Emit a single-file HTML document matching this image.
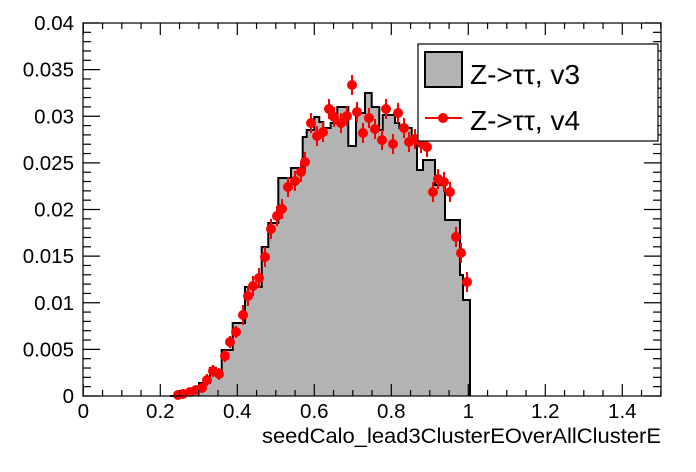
<!DOCTYPE html>
<html><head><meta charset="utf-8"><style>
html,body{margin:0;padding:0;background:#fff;}
svg{display:block;font-family:"Liberation Sans",sans-serif;}
</style></head><body>
<svg id="s" width="696" height="472" viewBox="0 0 696 472" xmlns="http://www.w3.org/2000/svg">
<rect width="696" height="472" fill="#fff"/>
<polygon id="hist" fill="#b3b3b3" stroke="none"/>
<polyline id="histl" fill="none" stroke="#000" stroke-width="2"/>
<g id="pts"></g>
<g id="axes" stroke="#000" stroke-width="1.2" fill="none"></g>
<g id="labels" font-size="20.5" fill="#000"></g>
<text x="661" y="443" font-size="21.5" text-anchor="end" textLength="399" lengthAdjust="spacingAndGlyphs">seedCalo_lead3ClusterEOverAllClusterE</text>
<rect x="418" y="44" width="240" height="97" fill="#fff" stroke="#000" stroke-width="1.2"/>
<rect x="425" y="52" width="37" height="35" fill="#b3b3b3" stroke="#000" stroke-width="2"/>
<text x="470" y="84" font-size="28">Z-&gt;ττ, v3</text>
<line x1="425" y1="118" x2="462" y2="118" stroke="#f00" stroke-width="2"/>
<circle cx="443" cy="118" r="5" fill="#f00"/>
<text x="470" y="130" font-size="28">Z-&gt;ττ, v4</text>
</svg>
<script>
var ns="http://www.w3.org/2000/svg";
function el(t,a,p){var e=document.createElementNS(ns,t);for(var k in a)e.setAttribute(k,a[k]);p.appendChild(e);return e;}
var st=[[170,396],[176,395],[185,394],[190,392],[199,383],[210,368],[216,371],[221.7,350],[232.7,323],[245,287],[261.7,247],[268.3,223],[278.3,178],[291,168],[302.7,137],[306.7,130],[314.3,117],[319.3,122],[323.3,128],[330.7,123],[337.3,107],[348.3,146],[356,113],[365,93],[371.7,107],[379.3,130],[382.7,115],[395,123],[399.3,128],[411.7,140],[417,170],[423,170],[423,160],[435,185],[445,220],[460,275],[463,300],[470,396]];
var d=[];
for(var i=0;i<st.length;i++){var x=st[i][0],y=st[i][1];var x2=i+1<st.length?st[i+1][0]:x;
d.push(x+","+y);d.push(x2+","+y);}
var poly=d.slice();poly.push("470,396");poly.unshift("170,396");
document.getElementById("hist").setAttribute("points",poly.join(" "));
document.getElementById("histl").setAttribute("points",d.join(" ")+" 470,396");
var P=[[178,395],[183,394],[190,392],[196,390],[202,388],[207,380],[213,371],[219,374],[225,356],[230,342],[236,332],[243,315],[248,296],[253,286],[259,278],[265,257],[271,229],[277,216],[282,209],[288,187],[295,181],[301,172],[305,162],[311,123],[317,136],[323,132],[329,109],[334,117],[341,123],[347,116],[352,85],[357,112],[363,133],[369,118],[375,129],[382,140],[386,109],[393,144],[398,113],[404,128],[409,142],[415,139],[421,143],[427,147],[433,192],[438,179],[444,182],[450,192],[456,237],[461,253],[467,282]];
var g=document.getElementById("pts");
P.forEach(function(p){var e=p[1]>380?3:(p[1]>330?6:10);
el("line",{x1:p[0],y1:p[1]-e,x2:p[0],y2:p[1]+e,stroke:"#f00","stroke-width":2},g);
el("circle",{cx:p[0],cy:p[1],r:5,fill:"#f00"},g);});
var a=document.getElementById("axes");
el("rect",{x:83,y:23,width:578,height:373},a);
var X0=83.3,SX=385,Y0=396,SY=9325;
for(var k=0;k<=30;k++){var x=X0+k*0.05*SX;if(x>661)break;var L=(k%4==0)?12:6;
el("line",{x1:x,y1:396,x2:x,y2:396-L},a);el("line",{x1:x,y1:23,x2:x,y2:23+L},a);}
for(var k=0;k<=40;k++){var y=Y0-k*0.001*SY;var L=(k%5==0)?17:8;
el("line",{x1:83,y1:y,x2:83+L,y2:y},a);el("line",{x1:661,y1:y,x2:661-L,y2:y},a);}
var lb=document.getElementById("labels");
var yl=["0","0.005","0.01","0.015","0.02","0.025","0.03","0.035","0.04"];
yl.forEach(function(t,i){var e=el("text",{x:74,y:Y0-i*0.005*SY+7,"text-anchor":"end"},lb);e.textContent=t;});
var xl=["0","0.2","0.4","0.6","0.8","1","1.2","1.4"];
xl.forEach(function(t,i){var e=el("text",{x:X0+i*0.2*SX,y:418,"text-anchor":"middle"},lb);e.textContent=t;});
</script>
</body></html>
